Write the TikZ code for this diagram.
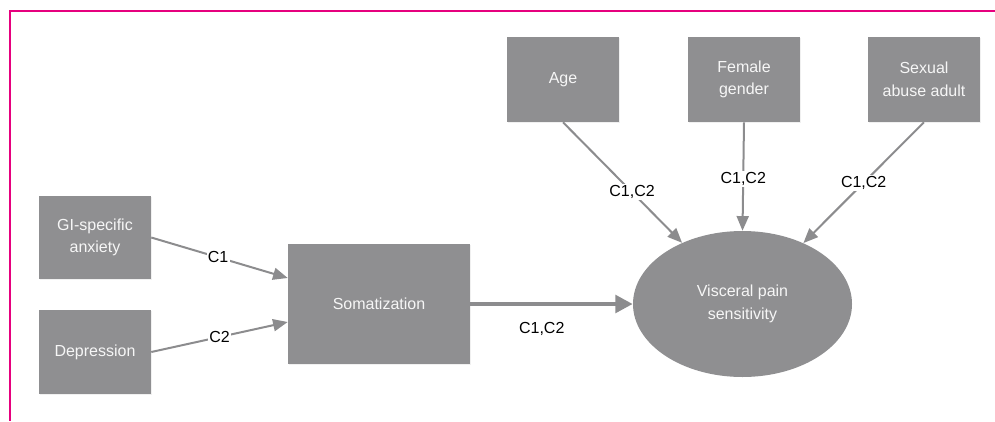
\documentclass[tikz,border=0pt]{standalone}
\usepackage{fontspec}
\setmainfont{Liberation Sans}
\usetikzlibrary{arrows.meta,shapes.geometric,shadows}
\definecolor{boxgray}{RGB}{143,143,145}
\definecolor{linegray}{RGB}{140,140,142}
\definecolor{framepink}{RGB}{230,0,126}
\definecolor{boxtext}{RGB}{246,246,246}
\begin{document}
\begin{tikzpicture}[x=0.75pt,y=-0.75pt,
  varbox/.style={rectangle, fill=boxgray, text=boxtext, align=center, inner sep=0pt,
    font=\fontsize{12}{17}\selectfont,
    drop shadow={opacity=0.12, shadow xshift=0.8pt, shadow yshift=-0.8pt}},
  outcome/.style={ellipse, fill=boxgray, text=boxtext, align=center, inner sep=0pt,
    font=\fontsize{12}{17}\selectfont, minimum width=164.25pt, minimum height=109.5pt},
  link/.style={draw=linegray, line width=1.5pt, -{Triangle[length=11pt,width=9pt]}},
  biglink/.style={draw=linegray, line width=3.2pt, -{Triangle[length=13pt,width=13pt]}},
  lab/.style={fill=white, inner sep=1pt, text=black, font=\fontsize{12}{14}\selectfont}]
\useasboundingbox (0,0) rectangle (995,421);
% frame
\coordinate (ftl) at (9.8,10.6);
\coordinate (ftr) at (995,10.6);
\coordinate (fbl) at (9.8,421);
\draw[framepink, line width=1.6pt] (ftr) -- (ftl) -- (fbl);
% nodes
\node[varbox, minimum width=84pt, minimum height=62.25pt] (gi) at (95,237.5) {GI-specific\\anxiety};
\node[varbox, minimum width=84pt, minimum height=63pt] (dep) at (95,352) {Depression};
\node[varbox, minimum width=136.5pt, minimum height=90pt] (som) at (379,304) {Somatization};
\node[varbox, minimum width=84pt, minimum height=63.75pt] (age) at (563,79.5) {Age};
\node[varbox, minimum width=84pt, minimum height=63.75pt] (fem) at (744,79.5) {Female\\gender};
\node[varbox, minimum width=84pt, minimum height=63.75pt] (sex) at (924,79.5) {Sexual\\abuse adult};
\node[outcome] (vps) at (742.5,304) {Visceral pain\\sensitivity};
% connectors
\coordinate (gitarget) at (som.west |- 0,278);
\coordinate (deptarget) at (som.west |- 0,322);
\draw[link] (gi.east) -- node[lab, pos=0.49] {C1} (gitarget);
\draw[link] (dep.east) -- node[lab, pos=0.5] {C2} (deptarget);
\draw[biglink] (som.east) -- node[pos=0.44, yshift=-18.75pt, text=black, font=\fontsize{12}{14}\selectfont] {C1,C2} (vps.west);
\draw[link] (age.south) -- node[lab, pos=0.58] {C1,C2} (vps);
\draw[link] (fem.south) -- node[lab, pos=0.52] {C1,C2} (vps.north);
\draw[link] (sex.south) -- node[lab, pos=0.5] {C1,C2} (vps);
\end{tikzpicture}
\end{document}
